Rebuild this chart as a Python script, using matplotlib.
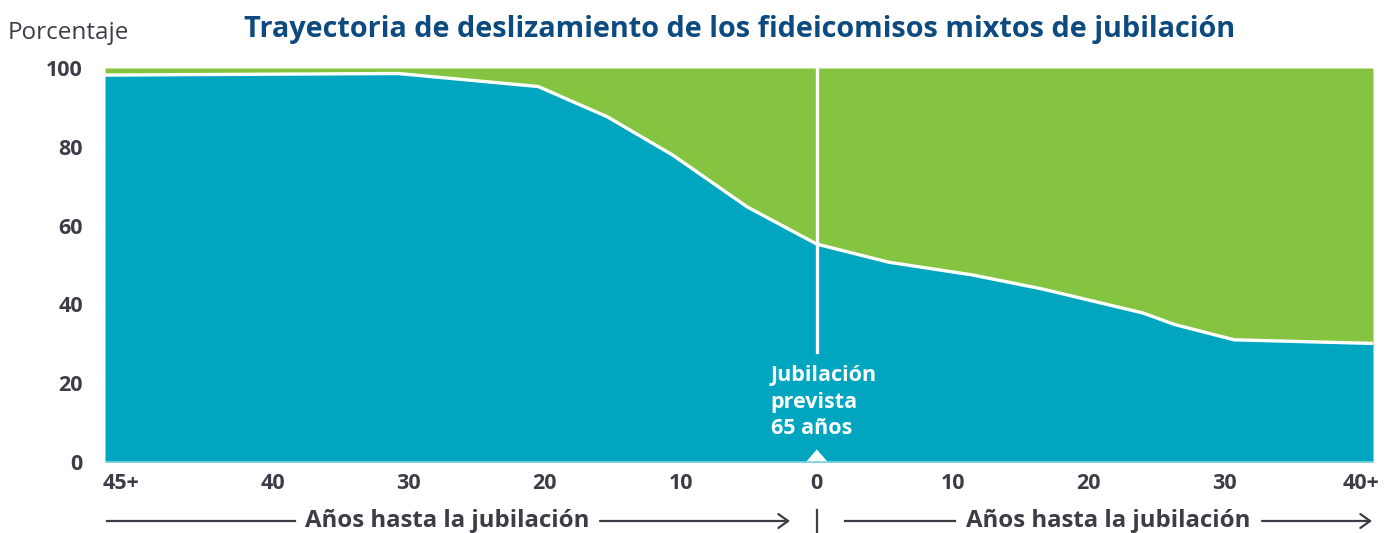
import matplotlib
matplotlib.use("Agg")
import matplotlib.pyplot as plt
import matplotlib.patches as mpatches
from matplotlib.lines import Line2D
import numpy as np

# ---- data ----
years = [-52.35, -30.8, -20.5, -15.4, -10.6, -5.1, 0.0, 5.3, 11.4, 16.6, 24.0, 26.3, 30.7, 40.9]
stock_pct = [98.2, 98.6, 95.3, 87.6, 77.9, 64.7, 55.3, 50.7, 47.5, 43.9, 37.8, 34.9, 31.0, 30.1]
xtick_pos = [-51.2, -40, -30, -20, -10, 0, 10, 20, 30, 40]
xtick_labels = ["45+", "40", "30", "20", "10", "0", "10", "20", "30", "40+"]
ytick_pos = [0, 20, 40, 60, 80, 100]
ytick_labels = ["0", "20", "40", "60", "80", "100"]
title = "Trayectoria de deslizamiento de los fideicomisos mixtos de jubilación"
ylabel = "Porcentaje"
annot = "Jubilación\nprevista\n65 años"
axis_caption = "Años hasta la jubilación"

TEAL = "#00a5bf"
GREEN = "#84c441"
BLUE = "#0c4a80"
GRAY = "#3c3e47"

plt.rcParams['font.family'] = ['Open Sans', 'DejaVu Sans']

W, H = 1398, 533
fig = plt.figure(figsize=(W / 100, H / 100), dpi=100)
ax = fig.add_axes([105 / W, (H - 462) / H, (1373 - 105) / W, (462 - 68) / H])

x = np.array(years)
y = np.array(stock_pct)
ax.fill_between(x, 0, y, color=TEAL, linewidth=0)
ax.fill_between(x, y, 100, color=GREEN, linewidth=0)
ax.plot(x, y, color="white", lw=2.4, solid_joinstyle="miter")
ax.set_xlim(x[0], x[-1])
ax.set_ylim(0, 100)

# retirement line
ax.plot([0, 0], [100, 28], color="white", lw=2.4)
ax.fill([-0.8, 0, 0.8], [0, 3.2, 0], color="white", lw=0)
ax.text(-3.4, 24.5, annot, color="white", fontsize=15.5, fontweight="bold",
        ha="left", va="top", linespacing=1.32)
ax.axhline(0, color="#7fd6e3", lw=1.2)

for s in ax.spines.values():
    s.set_visible(False)
ax.set_xticks(xtick_pos)
ax.set_xticklabels(xtick_labels)
ax.set_yticks(ytick_pos)
ax.set_yticklabels(ytick_labels)
ax.tick_params(length=0, labelsize=15.5, labelcolor=GRAY)
ax.tick_params(axis="x", pad=8)
ax.tick_params(axis="y", pad=16)
for lab in ax.get_xticklabels() + ax.get_yticklabels():
    lab.set_fontweight("bold")

fig.text(8 / W, 1 - 33 / H, ylabel, fontsize=17.5, color=GRAY, ha="left", va="center")
fig.text(740 / W, 1 - 29 / H, title, fontsize=20.8, fontweight="bold", color=BLUE,
         ha="center", va="center")

# bottom axis captions with arrows (figure pixel coords, origin bottom-left)
yb = H - 521
fig.text(447 / W, yb / H, axis_caption, fontsize=17.3, fontweight="bold", color=GRAY,
         ha="center", va="center")
fig.text(1108 / W, yb / H, axis_caption, fontsize=17.3, fontweight="bold", color=GRAY,
         ha="center", va="center")

def hline(x0, x1):
    fig.add_artist(Line2D([x0 / W, x1 / W], [yb / H, yb / H], color=GRAY, lw=1.6,
                          transform=fig.transFigure))

def harrow(x0, x1):
    fig.patches.append(mpatches.FancyArrowPatch(
        (x0 / W, yb / H), (x1 / W, yb / H), transform=fig.transFigure,
        arrowstyle="->,head_length=7,head_width=5", color=GRAY, lw=1.6,
        mutation_scale=1, shrinkA=0, shrinkB=0))

hline(107, 295)
harrow(600, 790)
hline(845, 955)
harrow(1262, 1372)
fig.add_artist(Line2D([817 / W, 817 / W], [(H - 533) / H, (H - 510) / H], color=GRAY,
                      lw=1.6, transform=fig.transFigure))

fig.savefig("out.png", dpi=100)
